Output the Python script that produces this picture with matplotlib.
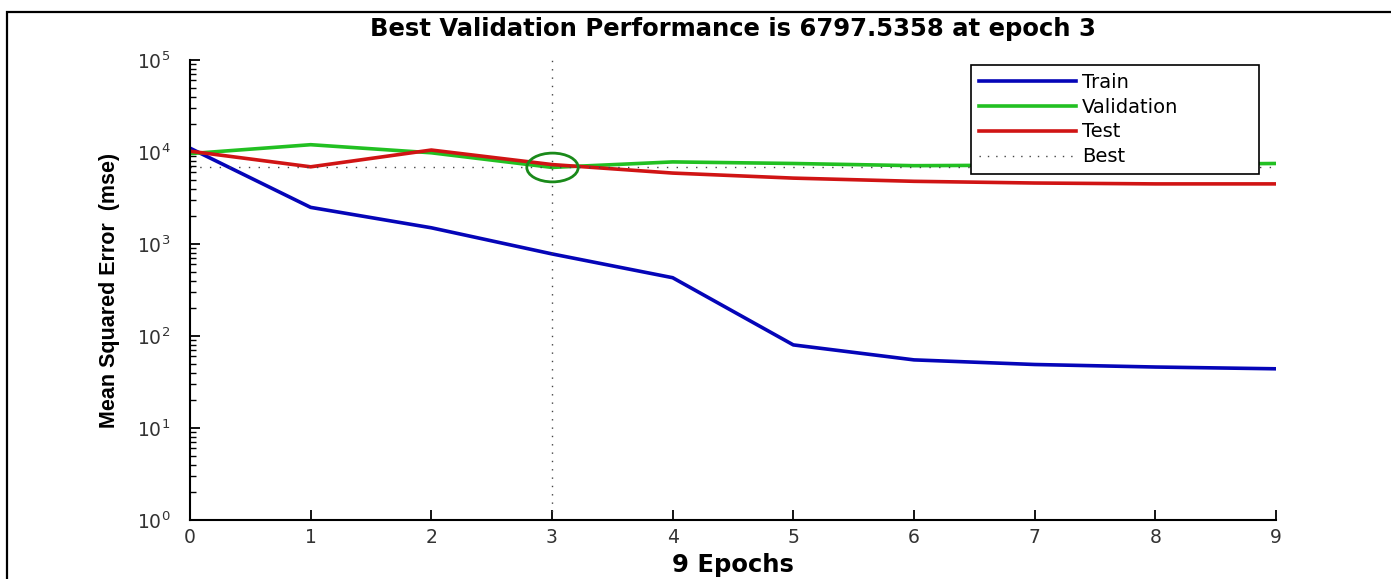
import matplotlib
matplotlib.use('Agg')
import matplotlib.pyplot as plt
from matplotlib.path import Path
from matplotlib.transforms import Affine2D
from matplotlib.patches import Rectangle
import numpy as np

plt.rcParams['font.family'] = ['DejaVu Sans']

epochs = [0, 1, 2, 3, 4, 5, 6, 7, 8, 9]
train_mse = [11000, 2500, 1500, 780, 430, 80, 55, 49, 46, 44]
val_mse = [9600, 12000, 9800, 6797.5358, 7800, 7500, 7100, 7200, 7300, 7500]
test_mse = [10200, 6900, 10500, 7300, 5900, 5200, 4800, 4600, 4500, 4500]
best_epoch = 3
best_perf = 6797.5358

fig = plt.figure(figsize=(13.91, 5.79), dpi=100)
ax = fig.add_axes([0.1366, 0.1019, 0.7807, 0.7945])

ax.plot(epochs, train_mse, color='#0505b8', lw=2.6, label='Train')
ax.plot(epochs, val_mse, color='#22c022', lw=2.6, label='Validation')
ax.plot(epochs, test_mse, color='#d01414', lw=2.6, label='Test')
ax.plot([best_epoch, best_epoch], [1, 1e5], ls=(0, (1, 5)), color='#444444', lw=1.0, label='Best')
ax.plot([0, 9], [best_perf, best_perf], ls=(0, (1, 6)), color='#444444', lw=1.0)

# wide open circle on the best validation point
oval = Path.unit_circle().transformed(Affine2D().scale(1.0, 0.56))
ax.plot([best_epoch], [best_perf], marker=oval, ms=37, mfc='none', mec='#1a8a1a', mew=2.0, ls='none')

ax.set_yscale('log')
ax.set_ylim(1, 1e5)
ax.set_xlim(0, 9)
ax.set_xticks(epochs)
ax.spines['top'].set_visible(False)
ax.spines['right'].set_visible(False)
ax.spines['left'].set_linewidth(1.5)
ax.spines['bottom'].set_linewidth(1.5)
ax.tick_params(which='major', direction='in', length=7, width=1.3, labelsize=13.5, colors='black')
ax.tick_params(which='minor', direction='in', length=4, width=1.0)
ax.tick_params(axis='y', which='major', pad=14)
ax.tick_params(axis='x', which='major', pad=6)
ax.tick_params(axis='x', labelcolor='#333333')
ax.tick_params(axis='y', labelcolor='#333333')

ax.set_title('Best Validation Performance is 6797.5358 at epoch 3', fontsize=17.5, fontweight='bold', pad=17)
ax.set_xlabel('9 Epochs', fontsize=17.5, fontweight='bold', labelpad=4)
ax.set_ylabel('Mean Squared Error  (mse)', fontsize=15.5, fontweight='bold', labelpad=12,
              fontfamily='Liberation Sans')

leg = ax.legend(loc='upper left', bbox_to_anchor=(0.719, 0.6, 0.265, 0.389), mode='expand',
                borderaxespad=0, fontsize=14, handlelength=5.0, framealpha=1,
                handletextpad=0.3, borderpad=0.4, labelspacing=0.3, frameon=True, fancybox=False)
leg.get_frame().set_edgecolor('black')
leg.get_frame().set_linewidth(1.2)

# frame line along the top and left of the figure
fig.patches.append(Rectangle((7 / 1391, -0.2), 1.1, 1.2 - 12 / 579, transform=fig.transFigure,
                             fill=False, edgecolor='black', lw=1.6))

fig.savefig('out.png', dpi=100, facecolor='white')
